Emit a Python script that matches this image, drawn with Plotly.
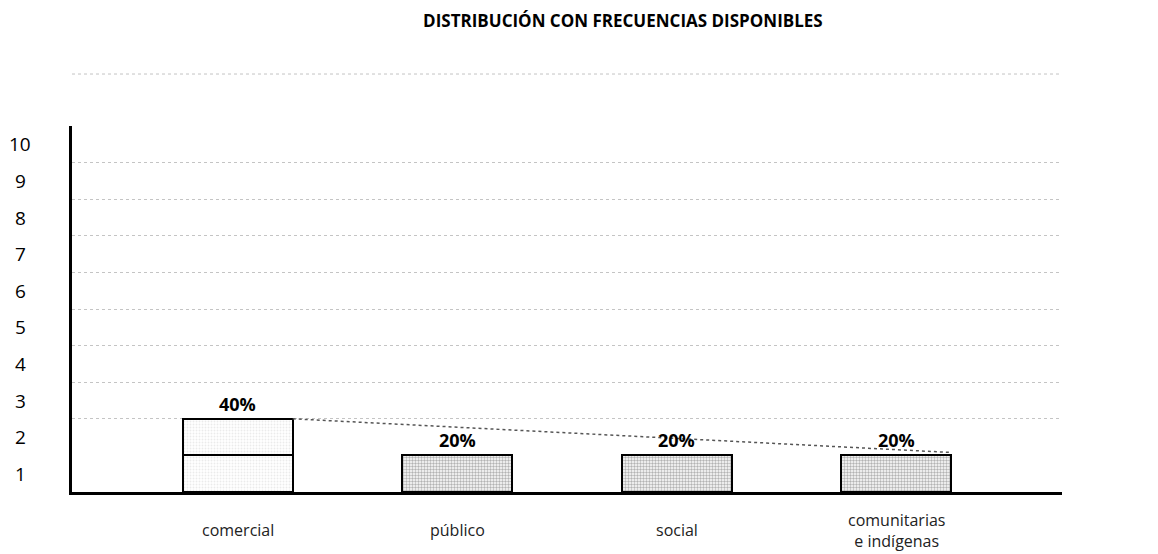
import plotly.graph_objects as go

categories = ["comercial", "público", "social", "comunitarias<br>e indígenas"]
counts = [2, 1, 1, 1]
percent_labels = ["40%", "20%", "20%", "20%"]
y_tick_vals = [0.5, 1.5, 2.5, 3.5, 4.5, 5.5, 6.5, 7.5, 8.5, 9.5]
y_tick_text = ["1", "2", "3", "4", "5", "6", "7", "8", "9", "10"]
grid_vals = [2, 3, 4, 5, 6, 7, 8, 9, 10]
# faint line drawn from the top of the first bar to the top of the last bar
trend_x = [0.25, 3.25]
trend_y = [2.0, 1.08]

xpos = list(range(len(categories)))
bg = ["#ebebeb" if i == 0 else "#b3b3b3" for i in xpos]
fg = ["#9a9a9a" if i == 0 else "#6a6a6a" for i in xpos]
sol = [0.3 if i == 0 else 0.5 for i in xpos]

fig = go.Figure()
max_count = max(counts)
for level in range(max_count):
    ys = [1 if c > level else 0 for c in counts]
    fig.add_trace(go.Bar(
        x=xpos, y=ys, width=0.5,
        marker=dict(color=bg, line=dict(color="black", width=2),
                    pattern=dict(shape=".", size=3, solidity=sol, fgcolor=fg, bgcolor=bg, fillmode="replace")),
        showlegend=False, hoverinfo="skip",
    ))

fig.add_trace(go.Scatter(x=trend_x, y=trend_y, mode="lines",
                         line=dict(color="#555555", width=1.5, dash="dot"),
                         showlegend=False, hoverinfo="skip"))

for i, (c, t) in enumerate(zip(counts, percent_labels)):
    fig.add_annotation(x=i, y=c, text=t, showarrow=False, yanchor="bottom", yshift=1,
                       font=dict(family="Open Sans", size=18, color="black", weight="bold"))

for v, t in zip(y_tick_vals, y_tick_text):
    fig.add_annotation(x=-0.0525, xref="paper", y=v, yref="y", text=t, showarrow=False,
                       xanchor="center", yanchor="middle",
                       font=dict(family="Open Sans", size=19, color="black"))

for i, t in enumerate(categories):
    fig.add_annotation(x=i, xref="x", y=-0.105, yref="paper", text=t, showarrow=False,
                       xanchor="center", yanchor="middle",
                       font=dict(family="Open Sans", size=16, color="#222222"))

fig.add_shape(type="line", xref="paper", yref="paper", x0=0, x1=1.0, y0=1.142, y1=1.142,
              line=dict(color="#c4c4c4", width=1, dash="dot"))

fig.update_layout(
    width=1158, height=554,
    margin=dict(l=64, r=104, t=118, b=70, autoexpand=False),
    paper_bgcolor="white", plot_bgcolor="white",
    barmode="stack", bargap=0.5,
    title=dict(text="<b>DISTRIBUCIÓN CON FRECUENCIAS DISPONIBLES</b>", x=0.531, xanchor="center",
               y=0.977, yanchor="middle",
               font=dict(family="Open Sans", size=17, color="black")),
    xaxis=dict(range=[-0.756, 3.756], tickvals=xpos, showticklabels=False,
               showline=True, linecolor="black", linewidth=3, showgrid=False, zeroline=False,
               ticks="", automargin=False),
    yaxis=dict(range=[0, 10], tickvals=grid_vals, showticklabels=False,
               showline=True, linecolor="black", linewidth=3, zeroline=False,
               showgrid=True, gridcolor="#c4c4c4", gridwidth=1, griddash="dot", ticks="",
               automargin=False),
)

fig.write_html("out.html", config={"responsive": False})
